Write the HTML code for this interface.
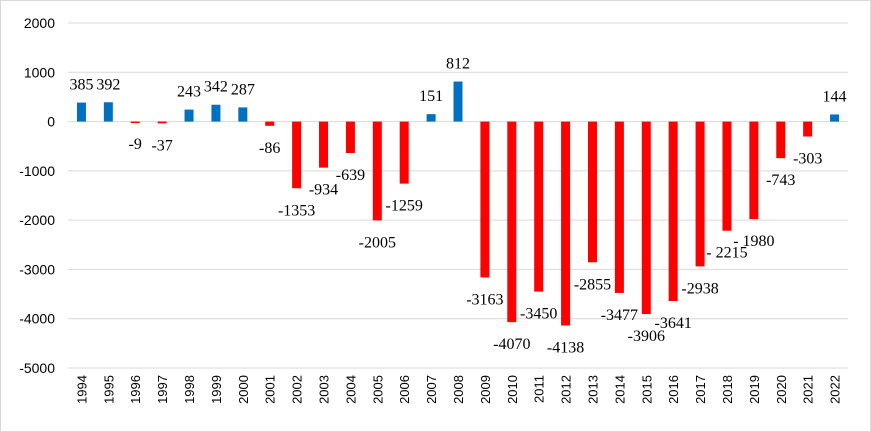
<!DOCTYPE html>
<html><head><meta charset="utf-8"><style>
html,body{margin:0;padding:0;background:#fff;}
svg{display:block;}
</style></head><body>
<svg id="chart" width="871" height="432" xmlns="http://www.w3.org/2000/svg">
<rect x="0.5" y="0.5" width="870" height="431" fill="#fff" stroke="#d9d9d9"/>
<g id="grid"></g><g id="bars"></g><g id="labels"></g>
</svg>
<script>
const years = ["1994","1995","1996","1997","1998","1999","2000","2001","2002","2003","2004","2005","2006","2007","2008","2009","2010","2011","2012","2013","2014","2015","2016","2017","2018","2019","2020","2021","2022"];
const values = [385,392,-9,-37,243,342,287,-86,-1353,-934,-639,-2005,-1259,151,812,-3163,-4070,-3450,-4138,-2855,-3477,-3906,-3641,-2938,-2215,-1980,-743,-303,144];
const valueLabels = ["385","392","-9","-37","243","342","287","-86","-1353","-934","-639","-2005","-1259","151","812","-3163","-4070","-3450","-4138","-2855","-3477","-3906","-3641","-2938","- 2215","- 1980","-743","-303","144"];
const yTicks = [2000,1000,0,-1000,-2000,-3000,-4000,-5000];

const NS="http://www.w3.org/2000/svg";
const plotLeft=68, plotRight=848, yMax=2000, yMin=-5000, plotTop=23, plotBottom=368;
const step=(plotRight-plotLeft)/years.length;
const xC=i=>plotLeft+step*(i+0.5);
const yS=v=>plotTop+(yMax-v)/(yMax-yMin)*(plotBottom-plotTop);
function mk(t,a,p){const e=document.createElementNS(NS,t);for(const k in a)e.setAttribute(k,a[k]);p.appendChild(e);return e;}
const grid=document.getElementById('grid'),bars=document.getElementById('bars'),labels=document.getElementById('labels');
yTicks.forEach(v=>{
  const l=mk('line',{x1:plotLeft,x2:plotRight,y1:yS(v),y2:yS(v),stroke:'#d9d9d9','stroke-width':1},grid);
  
  
  const t=mk('text',{x:55,y:yS(v)+5,'text-anchor':'end','font-family':'Liberation Sans, sans-serif','font-size':14,fill:'#000'},grid);
  t.textContent=v;
  
  
});
years.forEach((yr,i)=>{
  const v=values[i];
  const y0=yS(0),y1=yS(v);
  const r=mk('rect',{x:xC(i)-4.5,y:Math.min(y0,y1),width:9,height:Math.max(Math.abs(y1-y0),1.5),fill:v>=0?'#0070c0':'#ff0000'},bars);
  
  
  const ly=v>=0?y1-13:y1+27;
  const t=mk('text',{x:xC(i),y:ly,'text-anchor':'middle','font-family':'Liberation Serif, serif','font-size':16,fill:'#000'},labels);
  t.textContent=valueLabels[i];
  
  
  const xt=mk('text',{x:0,y:0,'text-anchor':'end','font-family':'Liberation Sans, sans-serif','font-size':13,fill:'#000',transform:`translate(${xC(i)+5},375) rotate(-90)`},labels);
  xt.textContent=yr;
  
  
});
</script>
</body></html>
